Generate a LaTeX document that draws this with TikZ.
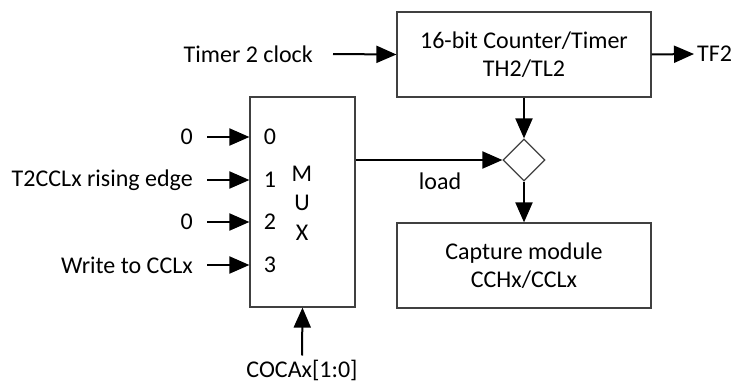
\documentclass[tikz,border=0pt]{standalone}
\usepackage{fontspec}
\setmainfont{Carlito}
\usetikzlibrary{arrows.meta,shapes.geometric}
\begin{document}
\begin{tikzpicture}[x=1pt,y=-1pt,
  every node/.style={font=\fontsize{24}{28}\selectfont, inner sep=0pt},
  blk/.style={draw=black!75, line width=1.2pt, rectangle, align=center},
  conn/.style={line width=2pt, -{Triangle[length=20pt,width=17pt]}},
  lbl/.style={anchor=east}]
\useasboundingbox (0,0) rectangle (744,383);
% blocks
\node[blk, minimum width=254pt, minimum height=85pt] (ctr) at (524,54.5) {16-bit Counter/Timer\\TH2/TL2};
\node[blk, minimum width=254pt, minimum height=85pt] (cap) at (524,265.5) {Capture module\\CCHx/CCLx};
\node[blk, minimum width=105pt, minimum height=210pt] (mux) at (302.5,202) {};
\node[align=center, font=\fontsize{24}{29.5}\selectfont] (muxt) at (302,203) {M\\U\\X};
\node[diamond, draw=black!75, line width=1.2pt, minimum width=42pt, minimum height=42pt] (dia) at (524,160) {};
% labels
\node[lbl] (clk) at (313,54) {Timer 2 clock};
\node[anchor=west] (tf2) at (697,54) {TF2};
\node (load) at (440,181) {load};
\node (coca) at (302,370) {COCAx[1:0]};
\node[lbl] (i0) at (193,137) {0};
\node[lbl] (i1) at (193,180) {T2CCLx rising edge};
\node[lbl] (i2) at (193,222) {0};
\node[lbl] (i3) at (193,265) {Write to CCLx};
\node (n0) at (270,137) {0};
\node (n1) at (270,180) {1};
\node (n2) at (270,222) {2};
\node (n3) at (270,265) {3};
% connectors
\draw[conn] ([xshift=20pt]clk.east) -- (ctr.west);
\draw[conn] (ctr.east) -- ([xshift=-3pt]tf2.west);
\draw[conn] (ctr.south) -- (dia.north);
\draw[conn] (dia.south) -- (cap.north);
\draw[conn] (mux.east |- dia) -- (dia.west);
\draw[conn] ([yshift=4pt]coca.north) -- (mux.south);
\foreach \k in {0,1,2,3}{
  \draw[conn] ([xshift=14pt]i\k.east) -- (i\k -| mux.west);
}
\end{tikzpicture}
\end{document}
